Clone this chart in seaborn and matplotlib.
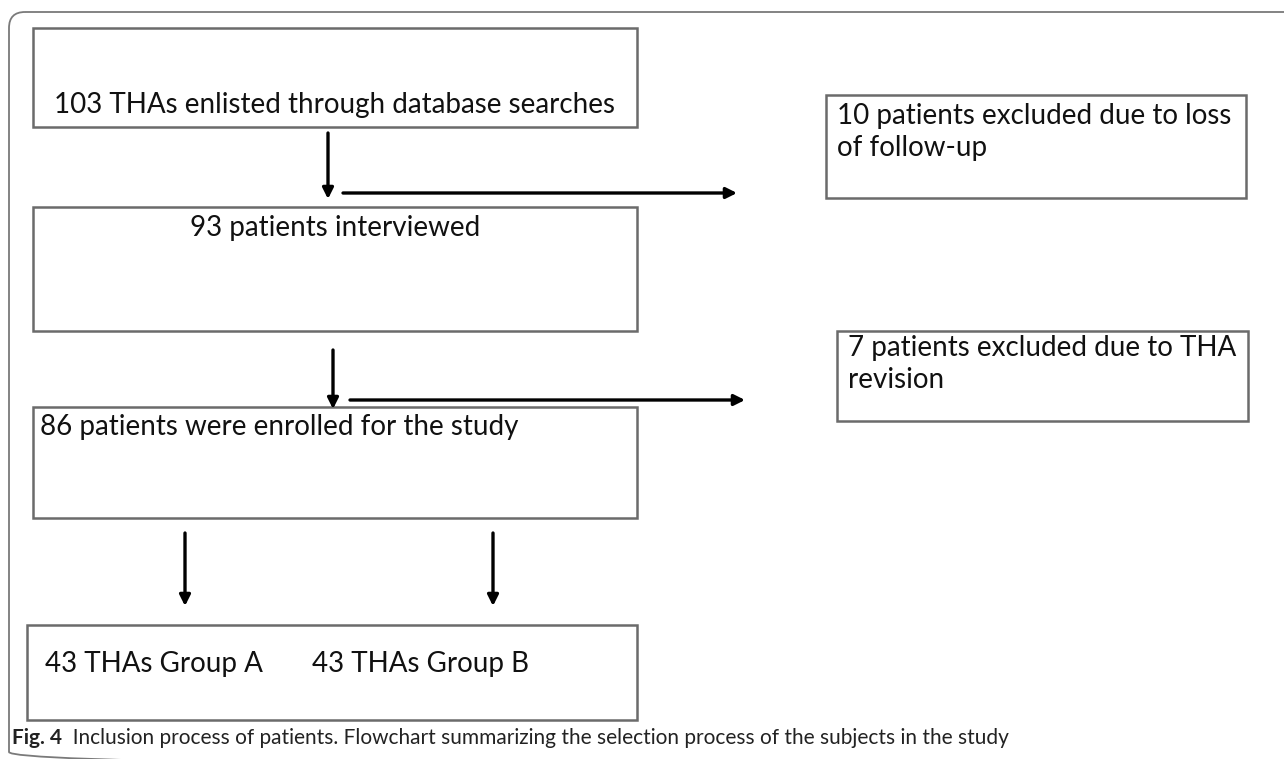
import matplotlib.pyplot as plt
import seaborn as sns
from matplotlib.patches import Rectangle, FancyBboxPatch

# texts of the flowchart
main_steps = ["103 THAs enlisted through database searches",
              "93 patients interviewed",
              "86 patients were enrolled for the study"]
exclusions = ["10 patients excluded due to loss\nof follow-up",
              "7 patients excluded due to THA\nrevision"]
groups = ["43 THAs Group A", "43 THAs Group B"]
caption_bold = "Fig. 4"
caption_text = ("Inclusion process of patients. Flowchart summarizing the "
                "selection process of the subjects in the study")

# layout in pixels (x0, y0, x1, y1), y counted from the top
main_boxes = [(33, 28, 637, 127), (33, 207, 637, 331), (33, 407, 637, 518)]
excl_boxes = [(826, 95, 1246, 198), (837, 331, 1248, 421)]
group_box = (27, 625, 637, 720)

sns.set_theme(style="white")
plt.rcParams["font.family"] = ["Lato", "DejaVu Sans"]

fig = plt.figure(figsize=(12.84, 7.59), dpi=100)
ax = fig.add_axes([0, 0, 1, 1])
ax.set_xlim(0, 1284)
ax.set_ylim(759, 0)
ax.axis("off")

edge = "#6b6b6b"
ink = "#111111"
fs = 20


def box(b, lw=1.8):
    x0, y0, x1, y1 = b
    ax.add_patch(Rectangle((x0, y0), x1 - x0, y1 - y0, fill=False,
                           ec=edge, lw=lw))


def arrow(x0, y0, x1, y1):
    ax.annotate("", xy=(x1, y1), xytext=(x0, y0),
                arrowprops=dict(arrowstyle="-|>", color="black", lw=2.4,
                                mutation_scale=16, shrinkA=0, shrinkB=0))


# outer frame with rounded corners (mostly cut by the figure edge)
ax.add_patch(FancyBboxPatch((9, 12), 1320, 756,
                            boxstyle="round,pad=0,rounding_size=16",
                            fill=False, ec="#7a7a7a", lw=1.3))

for b in main_boxes + excl_boxes + [group_box]:
    box(b)

# main column texts
ax.text(335, 113, main_steps[0], ha="center", va="baseline", fontsize=fs, color=ink)
ax.text(335, 236, main_steps[1], ha="center", va="baseline", fontsize=fs, color=ink)
ax.text(40, 435, main_steps[2], ha="left", va="baseline", fontsize=fs, color=ink)

# exclusion texts, line by line
for txt, (x0, y0, x1, y1), base in zip(exclusions, excl_boxes, [124, 356]):
    for i, line in enumerate(txt.split("\n")):
        ax.text(x0 + 11, base + i * 32, line, ha="left", va="baseline",
                fontsize=fs, color=ink)

ax.text(45, 672, groups[0], ha="left", va="baseline", fontsize=fs, color=ink)
ax.text(312, 672, groups[1], ha="left", va="baseline", fontsize=fs, color=ink)

# arrows
arrow(328, 133, 328, 199)
arrow(343, 193, 737, 193)
arrow(333, 350, 333, 409)
arrow(350, 400, 745, 400)
arrow(185, 533, 185, 606)
arrow(493, 533, 493, 606)

# caption
cap = ax.text(12, 744, caption_bold, ha="left", va="baseline", fontsize=15,
              fontweight="bold", color="#222")
ax.annotate("  " + caption_text, xycoords=cap, xy=(1, 0), va="bottom",
            ha="left", fontsize=15, color="#222")

fig.savefig("out.png", dpi=100)
